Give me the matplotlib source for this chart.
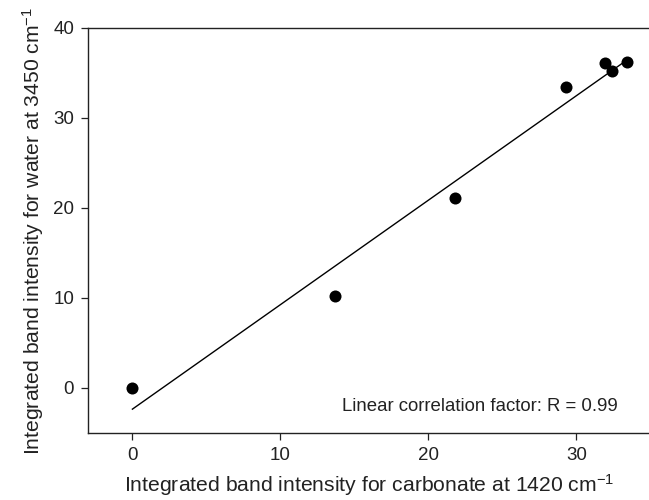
import matplotlib
matplotlib.use("Agg")
import matplotlib.pyplot as plt
import numpy as np

plt.rcParams["font.family"] = ["Liberation Sans", "DejaVu Sans"]
plt.rcParams["mathtext.default"] = "regular"

# carbonate (1420 cm-1) vs water (3450 cm-1) integrated band intensities
carbonate = [0.0, 13.7, 21.8, 29.3, 31.9, 32.4, 33.4]
water     = [0.0, 10.2, 21.1, 33.4, 36.1, 35.2, 36.2]

x_ticks = [0, 10, 20, 30]
y_ticks = [0, 10, 20, 30, 40]

W, H = 649, 500
fig = plt.figure(figsize=(W / 100, H / 100), dpi=100)
# axes box in pixels: left 88, bottom 433, top 28; right edge runs past the image
ax = fig.add_axes([88 / W, (H - 433) / H, 562.4 / W, 405 / H])

ax.scatter(carbonate, water, s=75, color="black", zorder=3, linewidths=0)

# least-squares line through the data
slope, intercept = np.polyfit(carbonate, water, 1)
xs = np.array([min(carbonate), max(carbonate)])
ax.plot(xs, slope * xs + intercept, color="black", lw=1.0, zorder=2)

ax.set_xlim(-3, 35)
ax.set_ylim(-5, 40)
ax.set_xticks(x_ticks)
ax.set_yticks(y_ticks)
ax.tick_params(direction="out", length=5, width=0.9, labelsize=13.5, pad=5,
               colors="#222222")

for side in ("left", "bottom", "top"):
    ax.spines[side].set_linewidth(1.0)
    ax.spines[side].set_color("#222222")
ax.spines["right"].set_visible(False)

ax.set_xlabel("Integrated band intensity for carbonate at 1420 cm$^{-1}$",
              fontsize=15.2, labelpad=6, color="#222222")
ax.set_ylabel("Integrated band intensity for water at 3450 cm$^{-1}$",
              fontsize=15.2, labelpad=5, color="#222222")

ax.text(32.8, -2.1, "Linear correlation factor: R = 0.99",
        ha="right", va="center", fontsize=13.4, color="#222222")

fig.savefig("out.png", dpi=100)
